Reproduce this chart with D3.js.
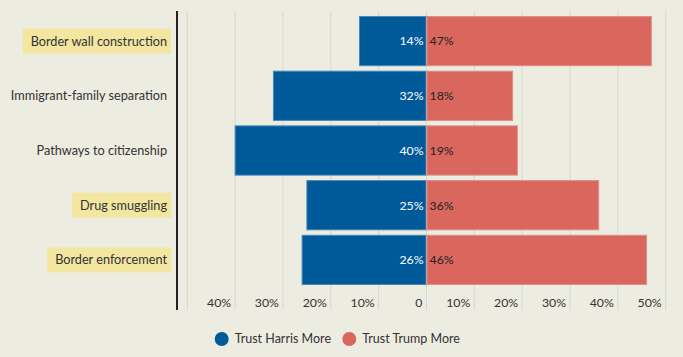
<!DOCTYPE html>
<html><head><meta charset="utf-8">
<script src="https://cdn.jsdelivr.net/npm/d3@7"></script>
<style>
html,body{margin:0;padding:0;background:#edece1;}
svg{display:block;font-family:Lato, sans-serif;}
</style></head><body>
<svg id="c" width="683" height="357"></svg>
<script>
const categories = ["Border wall construction","Immigrant-family separation","Pathways to citizenship","Drug smuggling","Border enforcement"];
const highlighted = ["Border wall construction","Drug smuggling","Border enforcement"];
const harris = [14,32,40,25,26];
const trump = [47,18,19,36,46];
const tickValues = [-50,-40,-30,-20,-10,0,10,20,30,40,50];
const seriesNames = ["Trust Harris More","Trust Trump More"];

const svg = d3.select("#c");
const x = d3.scaleLinear().domain([-50,50]).range([187.3,665.7]);
const y = d3.scaleBand().domain(categories).range([11,290]).paddingInner(0.1).paddingOuter(0.1);
const blue = "#005a9a", red = "#d9675e";

// gridlines
svg.append("g").selectAll("line").data(tickValues).join("line")
  .attr("x1",d=>x(d)).attr("x2",d=>x(d)).attr("y1",11).attr("y2",310)
  .attr("stroke","#d9d7cc").attr("stroke-width",1);

// tick labels
svg.append("g").selectAll("text").data(tickValues.filter(d=>d!==-50)).join("text")
  .attr("x",d=>x(d)-4).attr("y",303).attr("dy","0.35em")
  .attr("text-anchor","end").attr("font-size",12.3).attr("fill","#333")
  .text(d=>d===0?"0":Math.abs(d)+"%");

// bars
const rows = categories.map((c,i)=>({c,h:harris[i],t:trump[i]}));
const g = svg.append("g");
g.selectAll("rect.h").data(rows).join("rect").attr("class","h")
  .attr("x",d=>x(-d.h)).attr("width",d=>x(0)-x(-d.h)-0.5)
  .attr("y",d=>y(d.c)).attr("height",y.bandwidth())
  .attr("fill",blue).attr("stroke","#4a87b8").attr("stroke-width",1);
g.selectAll("rect.t").data(rows).join("rect").attr("class","t")
  .attr("x",x(0)+0.5).attr("width",d=>x(d.t)-x(0)-0.5)
  .attr("y",d=>y(d.c)).attr("height",y.bandwidth())
  .attr("fill",red).attr("stroke","#e08e86").attr("stroke-width",1);

// value labels
g.selectAll("text.h").data(rows).join("text").attr("class","h")
  .attr("x",x(0)-3).attr("y",d=>y(d.c)+y.bandwidth()/2).attr("dy","0.35em")
  .attr("text-anchor","end").attr("font-size",12.3).attr("fill","#fff")
  .text(d=>d.h+"%");
g.selectAll("text.t").data(rows).join("text").attr("class","t")
  .attr("x",x(0)+3).attr("y",d=>y(d.c)+y.bandwidth()/2).attr("dy","0.35em")
  .attr("text-anchor","start").attr("font-size",12.3).attr("fill","#222")
  .text(d=>d.t+"%");

// category labels
const lg = svg.append("g");
categories.forEach(c=>{
  const cy = y(c)+y.bandwidth()/2;
  const grp = lg.append("g");
  const t = grp.append("text").attr("x",167).attr("y",cy).attr("dy","0.35em")
    .attr("text-anchor","end").attr("font-size",12.7).attr("fill","#333").text(c);
  if(highlighted.includes(c)){
    const bb = t.node().getBBox();
    grp.insert("rect","text").attr("x",bb.x-8).attr("y",cy-12.5)
      .attr("width",bb.width+12).attr("height",25).attr("fill","#f2e6a0");
  }
});

// axis line
svg.append("line").attr("x1",177).attr("x2",177).attr("y1",11).attr("y2",310)
  .attr("stroke","#222").attr("stroke-width",2);

// legend
const legX = [221.7,349.3];
const leg = svg.append("g");
seriesNames.forEach((n,i)=>{
  leg.append("circle").attr("cx",legX[i]).attr("cy",339).attr("r",7).attr("fill",i?red:blue);
  leg.append("text").attr("x",legX[i]+13).attr("y",339).attr("dy","0.35em")
    .attr("font-size",12.5).attr("fill","#333").text(n);
});
</script></body></html>
